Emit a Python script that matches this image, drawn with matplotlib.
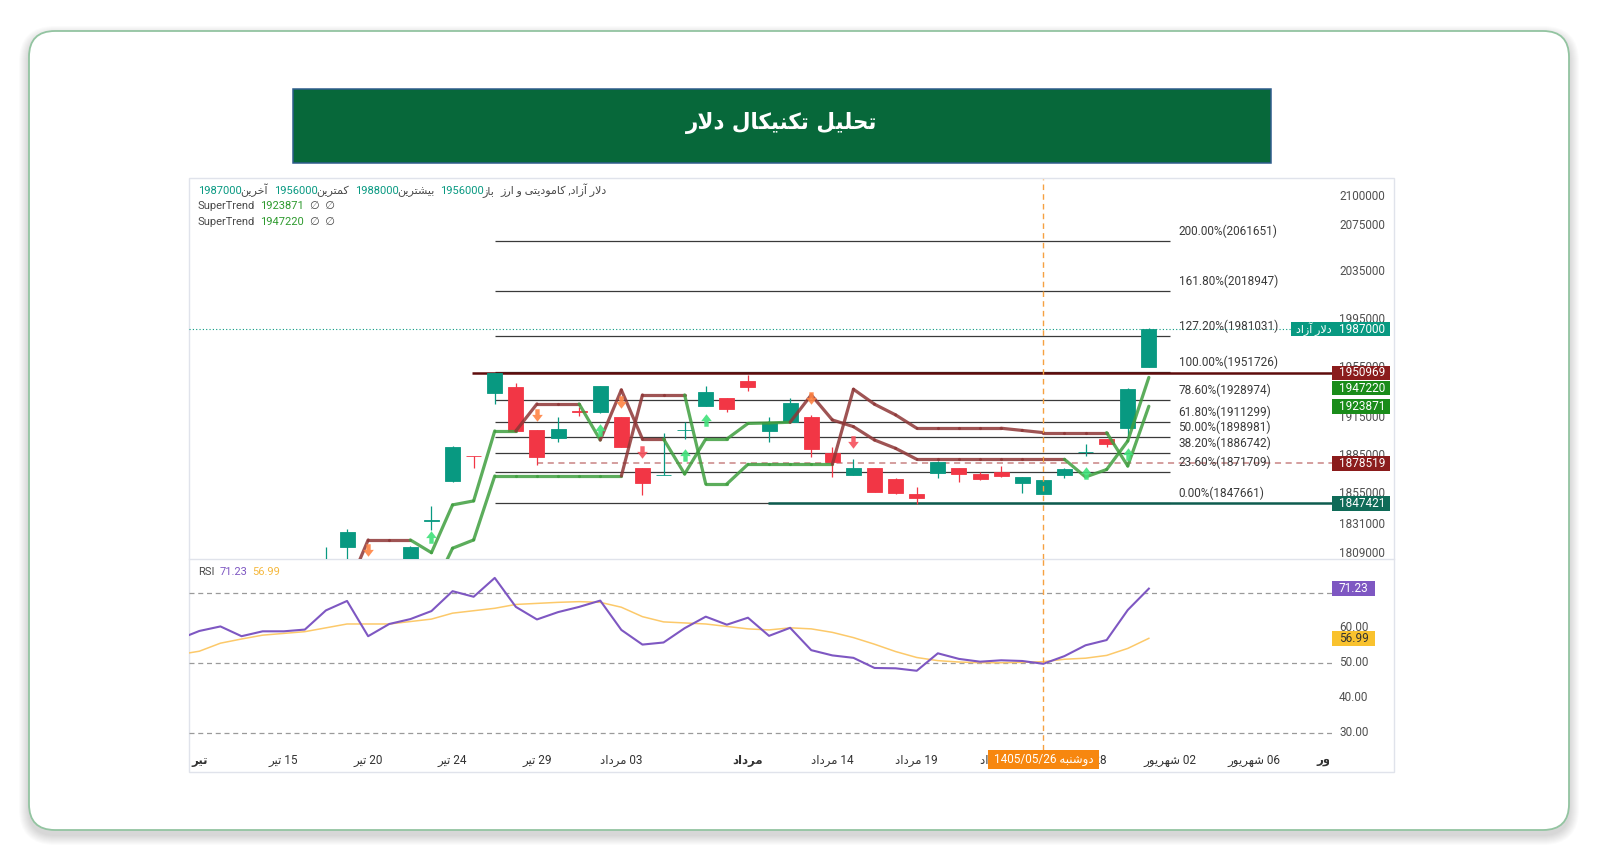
import numpy as np
import matplotlib
matplotlib.use("Agg")
import matplotlib.pyplot as plt
from matplotlib.patches import Rectangle, FancyBboxPatch
from matplotlib.collections import LineCollection
from matplotlib.path import Path
from matplotlib.transforms import Bbox
from matplotlib import font_manager
from matplotlib.ft2font import FT2Font

W, H = 1600, 863
plt.rcParams["font.family"] = ["Roboto", "DejaVu Sans"]

# ---------------- data ----------------
candle_idx = np.arange(40)
opens = [1795000, 1814200, 1803000, 1798000, 1797000, 1834000, 1864700, 1884300, 1934400, 1939700,
         1904700, 1898700, 1919800, 1919100, 1915100, 1874600, 1869200, 1904500, 1924400, 1930400,
         1944600, 1904400, 1911100, 1915100, 1886400, 1869100, 1874600, 1866000, 1854600, 1871200,
         1874600, 1869900, 1871900, 1863400, 1854600, 1869100, 1887200, 1897500, 1906300, 1956000]
highs = [1814000, 1827600, 1805000, 1803000, 1815000, 1845300, 1892000, 1884500, 1951000, 1942500,
         1905000, 1915100, 1923600, 1940500, 1915500, 1874800, 1902200, 1911500, 1940300, 1930700,
         1949200, 1915100, 1930400, 1916900, 1891600, 1881700, 1875000, 1866800, 1859800, 1880600,
         1874800, 1871900, 1876400, 1867900, 1865800, 1874600, 1893700, 1897800, 1938300, 1988000]
lows = [1790000, 1802000, 1790000, 1788000, 1795000, 1826600, 1864000, 1875000, 1925500, 1903600,
        1877200, 1895100, 1916100, 1918300, 1891000, 1853800, 1869000, 1897700, 1924000, 1919600,
        1936400, 1895100, 1910800, 1883200, 1867600, 1869000, 1856000, 1854600, 1846900, 1866800,
        1864100, 1865500, 1868000, 1855200, 1854300, 1866800, 1884500, 1891600, 1898300, 1956000]
closes = [1803000, 1825100, 1795000, 1792000, 1814200, 1834600, 1891600, 1884000, 1950600, 1904400,
          1883200, 1906000, 1919300, 1940300, 1891600, 1863400, 1869500, 1904900, 1935700, 1921500,
          1939700, 1910700, 1926800, 1889500, 1879300, 1874600, 1856400, 1855200, 1851300, 1879500,
          1870400, 1866500, 1868400, 1867600, 1865500, 1874300, 1887500, 1893500, 1938100, 1987000]

st1_vals = [1766700, 1781550, 1819270, 1819270, 1819270, 1809600, 1846120, 1849210, 1904120, 1904120,
            1925750, 1925750, 1925750, 1896910, 1937050, 1897710, 1897710, 1870150, 1897710, 1897710,
            1910100, 1910500, 1911060, 1933010, 1912900, 1907550, 1896910, 1890290, 1881670, 1881670,
            1881670, 1881670, 1881670, 1881670, 1881670, 1881670, 1867810, 1873660, 1896120, 1947220]
st1_up = [0, 0, 0, 0, 0, 1, 1, 1, 1, 1, 0, 0, 0, 1, 0, 0, 0, 1, 1, 1,
          1, 1, 1, 0, 0, 0, 0, 0, 0, 0, 0, 0, 0, 0, 0, 0, 1, 1, 1, 1]
st2_vals = [1770000, 1770000, 1770000, 1770000, 1770000, 1780000, 1812960, 1819270, 1868590, 1868590,
            1868590, 1868590, 1868590, 1868590, 1868590, 1933010, 1933010, 1933010, 1862350, 1862350,
            1877740, 1877740, 1877740, 1877740, 1877740, 1937620, 1925510, 1916910, 1906270, 1906270,
            1906270, 1906270, 1906270, 1904520, 1902770, 1902770, 1902770, 1902770, 1876400, 1923871]
st2_up = [1, 1, 1, 1, 1, 1, 1, 1, 1, 1, 1, 1, 1, 1, 1, 0, 0, 0, 1, 1,
          1, 1, 1, 1, 1, 0, 0, 0, 0, 0, 0, 0, 0, 0, 0, 0, 0, 0, 1, 1]

sig_idx = [2, 5, 10, 13, 14, 15, 17, 18, 23, 25, 36, 38]
sig_price = [1811700, 1821800, 1916900, 1904900, 1927600, 1887600, 1885000, 1912900, 1930600, 1895600,
             1871300, 1886000]
sig_kind = ["sell1", "buy", "sell1", "buy", "sell1", "sell2", "buy", "buy", "sell1", "sell2", "buy", "buy"]

fib_pct = ["200.00%", "161.80%", "127.20%", "100.00%", "78.60%", "61.80%", "50.00%", "38.20%",
           "23.60%", "0.00%"]
fib_price = [2061651, 2018947, 1981031, 1951726, 1928974, 1911299, 1898981, 1886742, 1871709, 1847661]
price_ticks = [2100000, 2075000, 2035000, 1995000, 1955000, 1915000, 1885000, 1855000, 1831000, 1809000]

last_price = 1987000
resist_price = 1950969
dashed_price = 1878519
support_price = 1847421

rsi_idx = np.arange(-7, 40)
rsi_vals = [56.7, 59.1, 60.4, 57.6, 59.0, 59.0, 59.5,
            65.0, 67.7, 57.6, 61.1, 62.5, 64.8, 70.5, 68.9, 74.3, 66.0,
            62.4, 64.5, 66.0, 67.8, 59.4, 55.2, 55.8, 59.9, 63.2, 60.9,
            62.9, 57.7, 60.0, 53.6, 52.1, 51.4, 48.5, 48.4, 47.7, 52.7,
            51.1, 50.3, 50.7, 50.5, 49.7, 51.9, 55.0, 56.5, 65.1, 71.23]
rsi_ma = [52.3, 53.3, 55.6, 56.8, 57.9, 58.4, 58.9,
          60.0, 61.1, 61.1, 61.1, 61.8, 62.5, 64.2, 64.9, 65.6, 66.7,
          67.0, 67.3, 67.5, 67.3, 65.9, 63.2, 61.7, 61.4, 61.1, 60.4,
          59.7, 59.4, 60.0, 59.7, 58.7, 57.2, 55.3, 53.2, 51.5, 50.6,
          50.2, 50.0, 50.0, 50.1, 50.3, 51.0, 51.3, 52.1, 54.1, 56.99]
rsi_levels = [70, 50, 30]
rsi_ticks = [70, 60, 50, 40, 30]

x_tick_idx = [-6, -2, 2, 6, 10, 14, 20, 24, 28, 32, 36, 40, 44, 48]
x_tick_day = ["", "15", "20", "24", "29", "03", "", "14", "19", "24", "28", "02", "06", ""]
x_tick_month = ["تیر", "تیر", "تیر", "تیر", "تیر", "مرداد", "مرداد", "مرداد", "مرداد", "مرداد",
                "مرداد", "شهریور", "شهریور", "شهریور"]
cross_idx = 34

# ---------------- persian shaping (matplotlib has no bidi) ----------------
FORMS = {
    "ا": ("\uFE8D", "\uFE8E", None, None), "آ": ("\uFE81", "\uFE82", None, None),
    "ب": ("\uFE8F", "\uFE90", "\uFE91", "\uFE92"), "ت": ("\uFE95", "\uFE96", "\uFE97", "\uFE98"),
    "ح": ("\uFEA1", "\uFEA2", "\uFEA3", "\uFEA4"), "خ": ("\uFEA5", "\uFEA6", "\uFEA7", "\uFEA8"),
    "د": ("\uFEA9", "\uFEAA", None, None), "ر": ("\uFEAD", "\uFEAE", None, None),
    "ز": ("\uFEAF", "\uFEB0", None, None), "ش": ("\uFEB5", "\uFEB6", "\uFEB7", "\uFEB8"),
    "ل": ("\uFEDD", "\uFEDE", "\uFEDF", "\uFEE0"), "م": ("\uFEE1", "\uFEE2", "\uFEE3", "\uFEE4"),
    "ن": ("\uFEE5", "\uFEE6", "\uFEE7", "\uFEE8"), "ه": ("\uFEE9", "\uFEEA", "\uFEEB", "\uFEEC"),
    "و": ("\uFEED", "\uFEEE", None, None),
    "ی": ("\uFBFC", "\uFBFD", "\uFBFE", "\uFBFF"), "ک": ("\uFB8E", "\uFB8F", "\uFB90", "\uFB91"),
}
LAM_ALEF = {"ا": ("\uFEFB", "\uFEFC"), "آ": ("\uFEF5", "\uFEF6")}
_cmap = FT2Font(font_manager.findfont("DejaVu Sans")).get_charmap()
if 0xFBFC not in _cmap:
    FORMS["ی"] = ("\uFEEF", "\uFEF0", "\uFEF3", "\uFEF4")
if 0xFB8E not in _cmap:
    FORMS["ک"] = ("\uFED9", "\uFEDA", "\uFEDB", "\uFEDC")


def fa(text):
    def fwd(ch):
        return ch in FORMS and FORMS[ch][2] is not None
    out, i, n = [], 0, len(text)
    while i < n:
        ch = text[i]
        if ch not in FORMS:
            out.append(ch); i += 1; continue
        jp = i > 0 and fwd(text[i - 1])
        if ch == "ل" and i + 1 < n and text[i + 1] in LAM_ALEF:
            out.append(LAM_ALEF[text[i + 1]][1 if jp else 0]); i += 2; continue
        jn = fwd(ch) and i + 1 < n and text[i + 1] in FORMS
        iso, fin, ini, med = FORMS[ch]
        out.append(med if jp and jn else fin if jp else ini if jn else iso)
        i += 1
    return "".join(out)[::-1]


# ---------------- colours ----------------
TEAL, RED = "#089981", "#F23645"
ST_GREEN, ST_BROWN = "#3f9f3f", "#8e3636"
GRAY_TXT = "#4a4a4a"

# ---------------- layout ----------------
fig = plt.figure(figsize=(W / 100, H / 100), dpi=100)
fig.patch.set_facecolor("white")


def pane(x0, y0, x1, y1, z):
    a = fig.add_axes([x0 / W, 1 - y1 / H, (x1 - x0) / W, (y1 - y0) / H], zorder=z)
    a.axis("off")
    return a


ax_bg = pane(0, 0, W, H, 0)
ax_bg.set_xlim(0, W); ax_bg.set_ylim(H, 0)
ax = pane(189, 179, 1332, 558.5, 1)
ax_rsi = pane(189, 558.5, 1332, 750, 1)
ax_top = pane(0, 0, W, H, 2)
ax_top.set_xlim(0, W); ax_top.set_ylim(H, 0)

X_LEFT, X_RIGHT = -6.49, 47.68
ax.set_yscale("log")
ax.set_xlim(X_LEFT, X_RIGHT)
ax.set_ylim(1805200, 2115700)
ax_rsi.set_xlim(X_LEFT, X_RIGHT)
ax_rsi.set_ylim(25.0, 79.86)

# card, banner, chart frame
for k in range(10, 0, -1):
    ax_bg.add_patch(FancyBboxPatch((29 - k, 31 - k + 5), 1540 + 2 * k, 799 + 2 * k,
                                   boxstyle=f"round,pad=0,rounding_size={26 + k}",
                                   fc=(0, 0, 0, 0.014), ec="none"))
ax_bg.add_patch(FancyBboxPatch((29, 31), 1540, 799, boxstyle="round,pad=0,rounding_size=26",
                               fc="white", ec="#93c4a1", lw=1.3))
ax_bg.add_patch(Rectangle((293, 88.8), 977.5, 74.5, fc="#07683a", ec="#2f5d8c", lw=1.1))
ax_bg.text(781.7, 123, fa("تحلیل تکنیکال دلار"), color="white", fontsize=15.5, fontweight="bold",
           family="DejaVu Sans", ha="center", va="center")
ax_bg.add_patch(Rectangle((189, 178.5), 1205, 593.5, fc="white", ec="#e0e3eb", lw=1))
ax_bg.plot([189, 1394], [558.5, 558.5], color="#e0e3eb", lw=1)

# ---------------- price pane ----------------
o, hi, lo, c = map(np.asarray, (opens, highs, lows, closes))
cols = [TEAL if cc >= oo else RED for oo, cc in zip(o, c)]
ax.vlines(candle_idx, lo, hi, colors=cols, lw=0.9, zorder=3)
ax.bar(candle_idx, np.abs(c - o), bottom=np.minimum(o, c), width=0.71, color=cols,
       edgecolor=cols, lw=0.6, zorder=4)

ax.hlines(fib_price, 8, 40, color="#3a3a3a", lw=0.9, zorder=2)
ax.axhline(last_price, color=TEAL, lw=0.8, ls=(0, (1, 2)), zorder=2)
ax.hlines(resist_price, 6.92, X_RIGHT, color="#5e0c0c", lw=1.8, zorder=2)
ax.hlines(support_price, 20.95, X_RIGHT, color="#0d5c4f", lw=1.8, zorder=2)
ax.hlines(dashed_price, 10, X_RIGHT, color="#c98484", lw=1.1, ls=(0, (4, 3)), zorder=2)


def supertrend(vals, up):
    pts = np.column_stack([candle_idx, vals])
    segs = np.stack([pts[:-1], pts[1:]], axis=1)
    lc = LineCollection(segs, colors=[ST_GREEN if u else ST_BROWN for u in up[1:]],
                        lw=2.3, alpha=0.85, zorder=5, capstyle="round", joinstyle="round")
    ax.add_collection(lc)


supertrend(st1_vals, st1_up)
supertrend(st2_vals, st2_up)

dn_verts = [(-0.35, 1), (0.35, 1), (0.35, 0.1), (0.85, 0.1), (0, -1), (-0.85, 0.1), (-0.35, 0.1), (-0.35, 1)]
codes = [Path.MOVETO] + [Path.LINETO] * 6 + [Path.CLOSEPOLY]
arrow_dn = Path(dn_verts, codes)
arrow_up = Path([(x, -y) for x, y in dn_verts], codes)
sig_style = {"sell1": (arrow_dn, "#ff8444"), "sell2": (arrow_dn, "#f5505c"), "buy": (arrow_up, "#3fe27a")}
for i, p, k in zip(sig_idx, sig_price, sig_kind):
    mk, col = sig_style[k]
    ax.plot(i, p, marker=mk, ms=9, color=col, mec="none", alpha=0.9, zorder=6)

ax.axvline(cross_idx, color="#f5a142", lw=1, ls=(0, (4, 3)), zorder=7)

# ---------------- rsi pane ----------------
for lv in rsi_levels:
    ax_rsi.axhline(lv, color="#9a9a9a", lw=0.9, ls=(0, (4, 3)))
ax_rsi.plot(rsi_idx, rsi_ma, color="#fcc96a", lw=1.1)
ax_rsi.plot(rsi_idx, rsi_vals, color="#7e57c2", lw=1.5)
ax_rsi.axvline(cross_idx, color="#f5a142", lw=1, ls=(0, (4, 3)))


def py(p):
    return H - ax.transData.transform((0, p))[1]


def ry(v):
    return H - ax_rsi.transData.transform((0, v))[1]


def ix(i):
    return ax.transData.transform((i, 1900000))[0]


# ---------------- scale labels and tags ----------------
for p in price_ticks:
    ax_top.text(1339, py(p), f"{p}", fontsize=8.5, color="#505050", va="center", ha="left")
for v in rsi_ticks:
    ax_top.text(1339, ry(v), f"{v:.2f}", fontsize=8.5, color="#505050", va="center", ha="left")
for pct, p in zip(fib_pct, fib_price):
    ax_top.text(1178.5, py(p) - 10, f"{pct}({p})", fontsize=8.5, color="#3a3a3a", va="center", ha="left")


def tag(yc, text, fc, tc="white", x0=1332, x1=1390):
    ax_top.add_patch(Rectangle((x0, yc - 7.3), x1 - x0, 14.6, fc=fc, ec="none", zorder=5))
    ax_top.text(1339, yc, text, fontsize=8.5, color=tc, va="center", ha="left", zorder=6)


tag(py(last_price), f"{last_price}", TEAL, x0=1291)
ax_top.text(1296, py(last_price), fa("دلار آزاد"), fontsize=8, color="white", va="center", ha="left", zorder=6)
price_tags = [(resist_price, "#8b1c1c"), (1947220, "#1a8c1a"), (1923871, "#1a8c1a"),
              (dashed_price, "#8b1c1c"), (support_price, "#0f6b58")]
prev = -1e9
for p, colr in sorted(price_tags, key=lambda t: -t[0]):
    y = max(py(p), prev + 15.3)
    tag(y, f"{p}", colr)
    prev = y
tag(ry(rsi_vals[-1]), f"{rsi_vals[-1]:.2f}", "#7e57c2", x1=1375)
tag(ry(rsi_ma[-1]), f"{rsi_ma[-1]:.2f}", "#f9c22e", tc="#333333", x1=1375)

# ---------------- x axis labels ----------------
clip = Bbox([[189, 0], [1329, H]])
for i, d, m in zip(x_tick_idx, x_tick_day, x_tick_month):
    s = fa(m) + (" " + d if d else "")
    t = ax_top.text(ix(i), 760, s, fontsize=8.5, color="#333333", ha="center", va="center",
                    fontweight="normal" if d else "bold", zorder=3)
    t.set_clip_box(clip); t.set_clip_on(True)
cx = ix(cross_idx)
ax_top.add_patch(Rectangle((cx - 55.6, 750), 111.2, 19, fc="#f7870f", ec="none", zorder=8))
ax_top.text(cx, 759.5, "1405/05/26 " + fa("دوشنبه"), fontsize=8.5, color="white",
            ha="center", va="center", zorder=9)

# ---------------- legends ----------------
renderer = fig.canvas.get_renderer()


def rich(x, y, parts, size=8):
    for s, colr, gap in parts:
        x += gap
        t = ax_top.text(x, y, s, fontsize=size, color=colr, ha="left", va="baseline")
        x += t.get_window_extent(renderer).width


rich(198, 194, [("1987000", TEAL, 0), (fa("آخرین"), GRAY_TXT, -1.5),
                ("1956000", TEAL, 6), (fa("کمترین"), GRAY_TXT, -1.5),
                ("1988000", TEAL, 6), (fa("بیشترین"), GRAY_TXT, -1.5),
                ("1956000", TEAL, 6), (fa("باز"), GRAY_TXT, -1.5),
                (fa("دلار آزاد, کامودیتی و ارز"), GRAY_TXT, 6)])
rich(198, 209, [("SuperTrend", GRAY_TXT, 0), (f"{st2_vals[-1]}", "#2e9a2e", 5), ("∅  ∅", GRAY_TXT, 6)])
rich(198, 224.5, [("SuperTrend", GRAY_TXT, 0), (f"{st1_vals[-1]}", "#2e9a2e", 5), ("∅  ∅", GRAY_TXT, 6)])
rich(198, 575, [("RSI", GRAY_TXT, 0), (f"{rsi_vals[-1]:.2f}", "#7e57c2", 5),
                (f"{rsi_ma[-1]:.2f}", "#f5b83d", 5)])

fig.savefig("out.png", dpi=100)
